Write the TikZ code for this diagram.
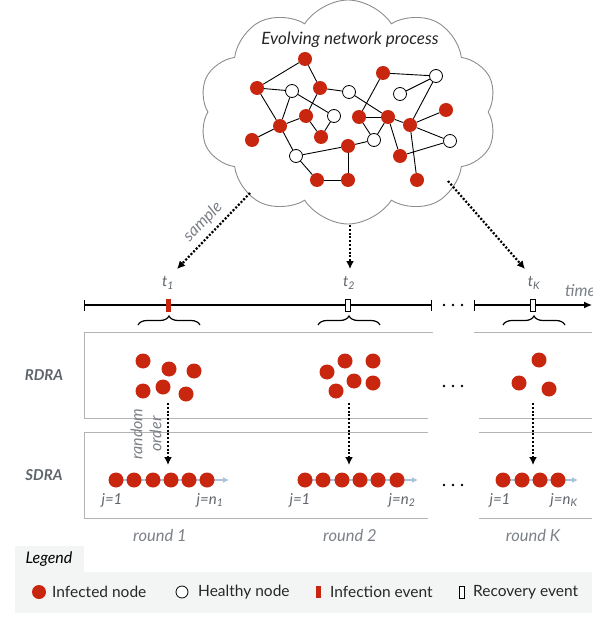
\documentclass[tikz,border=0pt]{standalone}
\usepackage{fontspec}
\setmainfont{Lato}
\usetikzlibrary{shapes.symbols,arrows.meta,decorations.pathreplacing}
\definecolor{infred}{HTML}{C8260E}
\definecolor{boxgray}{HTML}{B4B4B4}
\definecolor{txtgray}{HTML}{5F646B}
\definecolor{lblgray}{HTML}{7C8188}
\definecolor{legbg}{HTML}{F3F5F5}
\definecolor{seqblue}{HTML}{A9C3DD}
\definecolor{cloudgray}{HTML}{8C8C8C}
\begin{document}
\begin{tikzpicture}[x=1pt,y=-1pt,
  inf/.style={circle,fill=infred,minimum size=14pt,inner sep=0pt},
  hea/.style={circle,fill=white,draw=black,line width=0.8pt,minimum size=13pt,inner sep=0pt},
  dot/.style={circle,fill=infred,minimum size=15pt,inner sep=0pt},
  edge/.style={line width=0.9pt,black},
  dotarrow/.style={line width=2.2pt,dash pattern=on 2pt off 1.8pt,-{Latex[length=8pt,width=8pt]}},
  seqarrow/.style={line width=1.4pt,seqblue,-{Latex[length=6pt,width=6pt]}},
  boxline/.style={line width=0.9pt,boxgray},
  lbl/.style={font=\fontsize{16.5}{18}\selectfont\itshape,text=lblgray,inner sep=0pt},
  jlbl/.style={font=\fontsize{15}{17}\selectfont\itshape,text=txtgray,inner sep=0pt},
  rowlbl/.style={font=\fontsize{15}{17}\selectfont\bfseries\itshape,text=txtgray,inner sep=0pt},
  leg/.style={font=\fontsize{15.5}{17}\selectfont,text=black!85,inner sep=0pt,anchor=west},
  ell/.style={circle,fill=black,minimum size=2.6pt,inner sep=0pt},
  evinf/.style={rectangle,fill=infred,minimum width=5pt,minimum height=13pt,inner sep=0pt},
  evrec/.style={rectangle,fill=white,draw=black,line width=0.7pt,minimum width=5pt,minimum height=12pt,inner sep=0pt},
  brc/.style={decorate,decoration={brace,amplitude=9pt},line width=1.2pt}
]
\useasboundingbox (0,0) rectangle (592,617);

% cloud
\node[cloud,cloud puffs=10,cloud puff arc=115,aspect=1.35,draw=cloudgray,line width=0.9pt,
      minimum width=298pt,minimum height=224pt,inner sep=0pt] (cloud) at (348,112) {};
\node[font=\fontsize{17}{19}\selectfont\itshape,text=black!85] (title) at (350,40) {Evolving network process};

% network
\node[inf] (nA) at (305,59) {};
\node[inf] (nB) at (257,88) {};
\node[hea] (nC) at (292,91) {};
\node[inf] (nD) at (320,88) {};
\node[hea] (nE) at (349,92) {};
\node[inf] (nF) at (383,73) {};
\node[hea] (nG) at (436,76) {};
\node[hea] (nH) at (400,94) {};
\node[inf] (nI) at (306,116) {};
\node[hea] (nJ) at (334,116) {};
\node[inf] (nK) at (280,126) {};
\node[inf] (nL) at (359,117) {};
\node[inf] (nM) at (388,117) {};
\node[inf] (nN) at (410,125) {};
\node[inf] (nO) at (446,110) {};
\node[inf] (nP) at (252,140) {};
\node[inf] (nQ) at (321,137) {};
\node[hea] (nR) at (374,140) {};
\node[inf] (nS) at (348,146) {};
\node[hea] (nT) at (450,141) {};
\node[hea] (nU) at (296,156) {};
\node[inf] (nV) at (400,156) {};
\node[inf] (nW) at (317,180) {};
\node[inf] (nX) at (348,180) {};
\node[inf] (nY) at (417,180) {};
\foreach \a/\b in {A/B,A/D,B/C,B/K,C/K,C/J,D/E,D/I,I/K,I/Q,J/Q,E/M,F/G,F/L,H/G,G/N,L/M,L/R,M/R,M/V,M/N,N/O,N/T,N/Y,V/T,R/S,S/X,X/W,W/U,U/S,U/K,K/P}
  \draw[edge] (n\a) -- (n\b);

% sample arrows
\coordinate (s1a) at (250,193);
\coordinate (s1b) at (177,269);
\coordinate (s2a) at (350,225);
\coordinate (s2b) at (350,269);
\coordinate (s3a) at (448,181);
\coordinate (s3b) at (525,269);
\draw[dotarrow] (s1a) -- (s1b);
\draw[dotarrow] (s2a) -- (s2b);
\draw[dotarrow] (s3a) -- (s3b);
\node[lbl,rotate=46] (sample) at (203,222) {sample};

% timeline
\coordinate (tl0) at (84,305);
\coordinate (tl1) at (432,305);
\coordinate (tl2) at (474,305);
\coordinate (tl3) at (592,305);
\draw[line width=1.3pt,{Bar[width=11pt]}-{Bar[width=11pt]}] (tl0) -- (tl1);
\draw[line width=1.3pt,{Bar[width=11pt]}-{Latex[length=8pt,width=7pt]}] (tl2) -- (tl3);
\node[ell] (td1) at (444,305) {};
\node[ell] (td2) at (453,305) {};
\node[ell] (td3) at (462,305) {};
\node[lbl,anchor=west] (timelbl) at (565,291) {time};
\node[evinf] (ev1) at (168,305) {};
\node[evrec] (ev2) at (348,305) {};
\node[evrec] (ev3) at (533,305) {};
\node[jlbl] (t1) at (168,283) {t\textsubscript{1}};
\node[jlbl] (t2) at (349,283) {t\textsubscript{2}};
\node[jlbl] (t3) at (534,283) {t\textsubscript{K}};
\coordinate (b1a) at (138,325); \coordinate (b1b) at (200,325);
\coordinate (b2a) at (318,325); \coordinate (b2b) at (380,325);
\coordinate (b3a) at (503,325); \coordinate (b3b) at (565,325);
\draw[brc] (b1a) -- (b1b);
\draw[brc] (b2a) -- (b2b);
\draw[brc] (b3a) -- (b3b);

% boxes
\draw[boxline] (433,332) -- (84,332) -- (84,418) -- (428,418);
\draw[boxline] (474,332) -- (592,332);
\draw[boxline] (479,418) -- (592,418);
\draw[boxline] (428,432) -- (84,432) -- (84,518) -- (428,518);
\draw[boxline] (479,432) -- (592,432);
\draw[boxline] (479,518) -- (592,518);
\node[rowlbl] (rdra) at (44,375) {RDRA};
\node[rowlbl] (sdra) at (44,475) {SDRA};

% RDRA dots
\node[dot] (r11) at (143,361) {};
\node[dot] (r12) at (169,369) {};
\node[dot] (r13) at (194,371) {};
\node[dot] (r14) at (143,391) {};
\node[dot] (r15) at (163,387) {};
\node[dot] (r16) at (186,394) {};
\node[dot] (r21) at (327,372) {};
\node[dot] (r22) at (345,361) {};
\node[dot] (r23) at (373,361) {};
\node[dot] (r24) at (354,381) {};
\node[dot] (r25) at (336,391) {};
\node[dot] (r26) at (373,383) {};
\node[dot] (r31) at (539,360) {};
\node[dot] (r32) at (519,383) {};
\node[dot] (r33) at (549,389) {};
\node[ell] (rd1d) at (444,386) {};
\node[ell] (rd2d) at (453,386) {};
\node[ell] (rd3d) at (462,386) {};

% ordering arrows
\coordinate (o1a) at (168,403); \coordinate (o1b) at (168,465);
\coordinate (o2a) at (349,403); \coordinate (o2b) at (349,465);
\coordinate (o3a) at (533,403); \coordinate (o3b) at (533,465);
\draw[dotarrow] (o1a) -- (o1b);
\draw[dotarrow] (o2a) -- (o2b);
\draw[dotarrow] (o3a) -- (o3b);
\node[lbl,rotate=90,align=center,font=\fontsize{16}{19}\selectfont\itshape] (rorder) at (146,434) {random\\order};

% SDRA rows
\coordinate (e1) at (229,480);
\coordinate (e2) at (418,480);
\coordinate (e3) at (578,480);
\draw[seqarrow] (116,480) -- (e1);
\draw[seqarrow] (305,480) -- (e2);
\draw[seqarrow] (503,480) -- (e3);
\foreach \i/\x in {1/116,2/134,3/153,4/171,5/189,6/207}
  \node[dot] (q1\i) at (\x,480) {};
\foreach \i/\x in {1/305,2/323,3/342,4/360,5/378,6/397}
  \node[dot] (q2\i) at (\x,480) {};
\foreach \i/\x in {1/503,2/522,3/540,4/558}
  \node[dot] (q3\i) at (\x,480) {};
\node[ell] (sd1) at (444,485) {};
\node[ell] (sd2) at (453,485) {};
\node[ell] (sd3) at (462,485) {};
\node[jlbl] (j11) at (112,500) {j=1};
\node[jlbl] (j12) at (210,500) {j=n\textsubscript{1}};
\node[jlbl] (j21) at (300,500) {j=1};
\node[jlbl] (j22) at (402,500) {j=n\textsubscript{2}};
\node[jlbl] (j31) at (500,500) {j=1};
\node[jlbl] (j32) at (564,500) {j=n\textsubscript{K}};

\node[lbl] (rd1) at (160,535) {round 1};
\node[lbl] (rd2) at (350,535) {round 2};
\node[lbl] (rd3) at (533,535) {round K};

% legend
\fill[legbg] (15,546) rectangle (84,572);
\fill[legbg] (15,572) rectangle (592,613);
\node[font=\fontsize{16}{18}\selectfont\itshape,inner sep=0pt] (legt) at (49,559) {Legend};
\node[circle,fill=infred,minimum size=14pt,inner sep=0pt] (lg1) at (39,592) {};
\node[leg] (lg1t) at (52,592) {Infected node};
\node[circle,fill=white,draw=black,line width=0.8pt,minimum size=12pt,inner sep=0pt] (lg2) at (182,592) {};
\node[leg] (lg2t) at (198,592) {Healthy node};
\node[evinf,minimum height=12pt] (lg3) at (318,592) {};
\node[leg] (lg3t) at (330,592) {Infection event};
\node[evrec] (lg4) at (462,592) {};
\node[leg] (lg4t) at (473,592) {Recovery event};
\end{tikzpicture}
\end{document}
